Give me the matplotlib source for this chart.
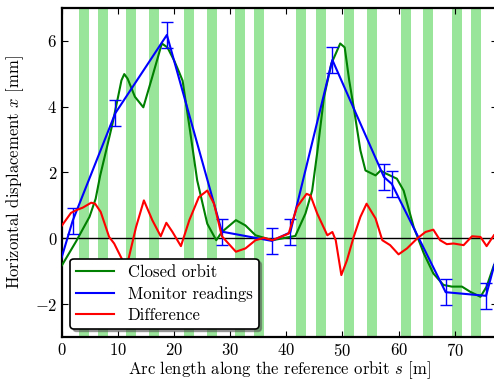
import numpy as np
import matplotlib
matplotlib.use('Agg')
import matplotlib.pyplot as plt

plt.rcParams['font.family'] = 'serif'
plt.rcParams['font.serif'] = ['cmr10']
plt.rcParams['mathtext.fontset'] = 'cm'
plt.rcParams['axes.formatter.use_mathtext'] = True
plt.rcParams['font.size'] = 12

# quadrupole positions (start of each magnet) and length [m]
quad_start = [3.0, 6.4, 11.4, 15.5, 21.7, 25.8, 30.8, 34.2,
              41.8, 45.2, 50.2, 54.3, 60.5, 64.4, 69.6, 73.0]
quad_len = 1.78

# closed orbit
orbit_s = [0.0, 2.5, 4.9, 6.0, 6.8, 8.0, 9.0, 10.0, 10.6, 11.1, 11.7, 13.0,
           14.5, 16.0, 17.8, 18.8, 20.0, 20.9, 21.5, 22.8, 24.1, 25.9, 27.5,
           28.5, 31.0, 32.7, 34.5, 37.5, 41.6, 43.4, 44.6, 45.5, 46.7, 48.0,
           49.6, 50.4, 51.2, 52.0, 53.2, 54.1, 55.9, 56.8, 57.7, 59.7, 60.9,
           62.7, 64.5, 66.2, 68.0, 69.5, 71.3, 72.8, 74.6, 75.7, 77.0]
orbit_x = [-0.82, -0.1, 0.65, 1.2, 1.9, 2.76, 3.48, 4.3, 4.8, 4.99, 4.85,
           4.3, 3.98, 4.85, 5.92, 5.8, 5.4, 5.04, 4.79, 3.3, 1.76, 0.44, -0.06,
           0.19, 0.55, 0.39, 0.09, -0.06, 0.07, 0.75, 1.45, 2.6, 4.28, 5.3,
           5.92, 5.8, 4.8, 3.98, 2.67, 2.06, 1.91, 2.06, 1.97, 1.81, 1.45,
           0.34, -0.46, -1.07, -1.42, -1.47, -1.47, -1.63, -1.78, -1.47, -0.82]

# beam position monitors
bpm_s = [1.9, 9.5, 18.7, 28.5, 37.4, 40.7, 48.2, 57.4, 58.8, 68.4, 75.6]
bpm_x = [0.53, 3.8, 6.18, 0.2, -0.08, 0.18, 5.42, 1.86, 1.65, -1.64, -1.75]
bpm_err = 0.4
# neighbouring monitors just outside the shown range (ring wraps around)
bpm_s_prev, bpm_x_prev = -1.5, -1.4
bpm_s_next, bpm_x_next = 78.5, 0.1

# difference
diff_s = [0.0, 1.6, 2.5, 3.7, 5.2, 5.9, 6.9, 8.4, 9.3, 10.5, 11.2, 11.9,
          13.2, 14.6, 16.1, 17.6, 18.6, 19.7, 21.2, 22.7, 24.4, 25.9, 27.1,
          28.5, 31.0, 32.7, 34.5, 36.0, 37.5, 40.4, 41.9, 43.6, 44.3, 45.5,
          47.3, 48.2, 48.8, 49.8, 50.8, 52.0, 53.2, 54.3, 55.9, 57.1, 58.5,
          60.0, 61.5, 63.3, 64.8, 66.2, 67.4, 68.6, 69.8, 71.6, 73.1, 74.6,
          75.7, 77.0]
diff_x = [0.39, 0.77, 0.85, 0.93, 1.08, 1.05, 0.8, 0.04, -0.16, -0.57, -0.8,
          -0.6, 0.34, 1.15, 0.55, 0.06, 0.47, 0.19, -0.24, 0.55, 1.25, 1.45,
          1.05, 0.06, -0.41, -0.31, -0.06, 0.01, -0.06, 0.14, 0.95, 1.35,
          1.30, 0.75, 0.09, 0.19, -0.06, -1.12, -0.67, 0.04, 0.65, 1.05, 0.6,
          -0.06, -0.21, -0.49, -0.31, -0.01, 0.19, 0.26, -0.06, -0.18, -0.16,
          -0.21, 0.06, 0.04, -0.24, 0.09]

fig = plt.figure(figsize=(4.94, 3.79), dpi=100)
ax = fig.add_axes([0.1255, 0.111, 0.88, 0.868])

for s0 in quad_start:
    ax.axvspan(s0, s0 + quad_len, color='#99e599', lw=0, zorder=0)

ax.axhline(0, color='k', lw=1, zorder=1)

ax.plot(orbit_s, orbit_x, color='#008000', lw=1.5, label='Closed orbit', zorder=3)
line_s = [bpm_s_prev] + bpm_s + [bpm_s_next]
line_x = [bpm_x_prev] + bpm_x + [bpm_x_next]
ax.plot(line_s, line_x, color='b', lw=1.5, label='Monitor readings', zorder=4)
ax.errorbar(bpm_s, bpm_x, yerr=bpm_err, fmt='none', ecolor='b', elinewidth=1,
            capsize=4, capthick=1, zorder=4)
ax.plot(diff_s, diff_x, color='r', lw=1.5, label='Difference', zorder=5)

ax.set_xlim(0, 77.5)
ax.set_ylim(-3, 7)
ax.set_xticks(np.arange(0, 71, 10))
ax.set_yticks([-2, 0, 2, 4, 6])
ax.tick_params(direction='in', top=True, right=True, length=4, width=0.8, pad=3.5)
for sp in ax.spines.values():
    sp.set_linewidth(1.6)

ax.set_xlabel('Arc length along the reference orbit $s$ [m]', labelpad=0)
ax.set_ylabel('Horizontal displacement $x$ [mm]', labelpad=6)

leg = ax.legend(loc='lower left', fancybox=True, shadow=True, framealpha=1,
                edgecolor='k', handlelength=2.3, borderaxespad=0.5,
                labelspacing=0.35, borderpad=0.35)
leg.get_frame().set_linewidth(1.2)
leg.set_zorder(10)

fig.savefig('out.png', dpi=100)
